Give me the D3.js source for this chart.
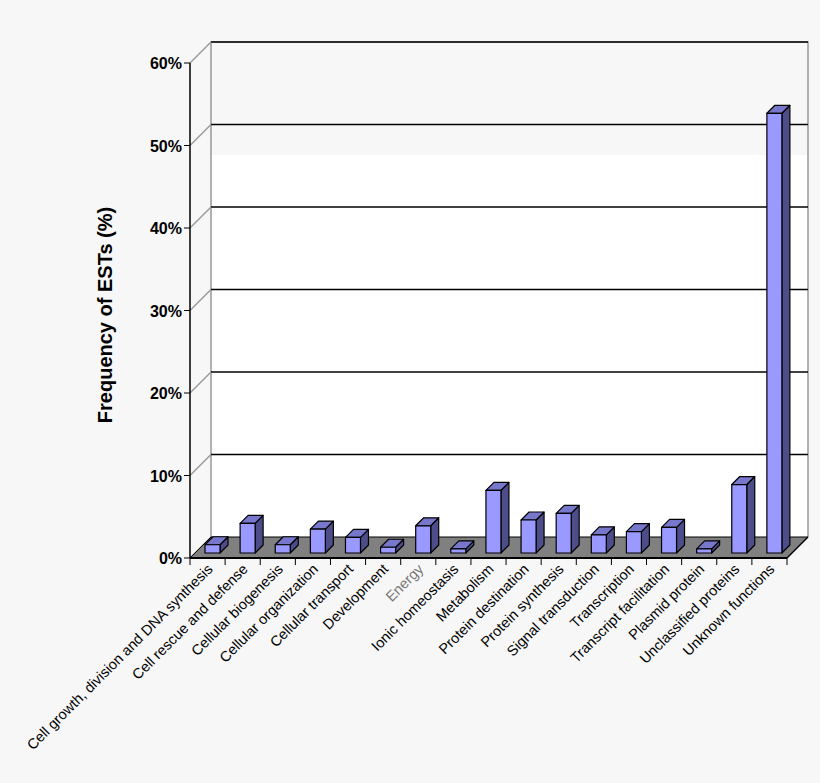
<!DOCTYPE html><html><head><script src="https://cdn.jsdelivr.net/npm/d3@7"></script>
<style>body{margin:0;background:#f7f7f7}</style></head><body><svg id="c" width="820" height="783"></svg>
<script>
const categories=["Cell growth, division and DNA synthesis","Cell rescue and defense","Cellular biogenesis","Cellular organization","Cellular transport","Development","Energy","Ionic homeostasis","Metabolism","Protein destination","Protein synthesis","Signal transduction","Transcription","Transcript facilitation","Plasmid protein","Unclassified proteins","Unknown functions"];
const values=[1.0,3.6,1.0,2.9,1.9,0.7,3.3,0.5,7.6,4.0,4.8,2.2,2.6,3.1,0.5,8.3,53.3];
const yTicks=[0,10,20,30,40,50,60];
const svg=d3.select("#c");
const x0=190,x1=787,yB=558,yT=63,dx=21,dy=-21;
const x=d3.scaleBand().domain(categories).range([x0,x1]);
const y=d3.scaleLinear().domain([0,60]).range([yB,yT]);
svg.append("rect").attr("x",x0+dx).attr("y",155).attr("width",x1-x0).attr("height",yB+dy-155).attr("fill","#fff");
svg.append("path").attr("d",`M${x0+dx},${yB+dy}V${yT+dy}H${x1+dx}V${yB+dy}`).attr("fill","none").attr("stroke","#999").attr("stroke-width",1.5);
yTicks.forEach(t=>{
  if(t>0)svg.append("line").attr("x1",x0+dx).attr("x2",x1+dx).attr("y1",y(t)+dy).attr("y2",y(t)+dy).attr("stroke","#000").attr("stroke-width",1.5);
  svg.append("line").attr("x1",x0).attr("x2",x0+dx).attr("y1",y(t)).attr("y2",y(t)+dy).attr("stroke","#999").attr("stroke-width",1.5);
  svg.append("line").attr("x1",x0-6).attr("x2",x0).attr("y1",y(t)).attr("y2",y(t)).attr("stroke","#000");
  svg.append("text").attr("x",x0-8).attr("y",y(t)+6).attr("text-anchor","end").attr("font-family","Liberation Sans, Arial").attr("font-weight","bold").attr("font-size",16).text(t+"%");
});
svg.append("path").attr("d",`M${x0},${yB}L${x1},${yB}L${x1+dx},${yB+dy}L${x0+dx},${yB+dy}Z`).attr("fill","#808080").attr("stroke","#000").attr("stroke-width",1);
svg.append("line").attr("x1",x0).attr("x2",x0).attr("y1",yT).attr("y2",yB).attr("stroke","#000").attr("stroke-width",1.5);
svg.append("line").attr("x1",x0).attr("x2",x1).attr("y1",yB).attr("y2",yB).attr("stroke","#000").attr("stroke-width",2);
const bw=15,bd=8,base=yB-5;
const hs=y(0)-y(1);
categories.forEach((c,i)=>{
  const bx=x(c)+15, top=base-values[i]*hs;
  const g=svg.append("g").attr("stroke","#000").attr("stroke-width",1.2).attr("stroke-linejoin","round");
  g.append("path").attr("d",`M${bx+bw},${base}L${bx+bw+bd},${base-bd}L${bx+bw+bd},${top-bd}L${bx+bw},${top}Z`).attr("fill","#4d4d8a");
  g.append("path").attr("d",`M${bx},${top}L${bx+bd},${top-bd}L${bx+bw+bd},${top-bd}L${bx+bw},${top}Z`).attr("fill","#7777cc");
  g.append("rect").attr("x",bx).attr("y",top).attr("width",bw).attr("height",base-top).attr("fill","#9999ff");
});
d3.range(categories.length+1).forEach(i=>{
  const tx=x0+i*x.step();
  svg.append("line").attr("x1",tx).attr("x2",tx).attr("y1",yB).attr("y2",yB+7).attr("stroke","#000");
});
categories.forEach((c,i)=>{
  const cx=x(c)+x.bandwidth()/2+6;
  svg.append("text").attr("transform",`translate(${cx},${yB+12}) rotate(-45)`).attr("text-anchor","end").attr("font-family","Liberation Sans, Arial").attr("font-size",14.5).attr("fill",c==="Energy"?"#777":"#000").text(c);
});
svg.append("line").attr("x1",x1).attr("x2",x1+dx).attr("y1",yB).attr("y2",yB+dy).attr("stroke","#000").attr("stroke-width",1.5);
svg.append("text").attr("transform","translate(112,315) rotate(-90)").attr("text-anchor","middle").attr("font-family","Liberation Sans, Arial").attr("font-weight","bold").attr("font-size",20).text("Frequency of ESTs (%)");
</script></body></html>
